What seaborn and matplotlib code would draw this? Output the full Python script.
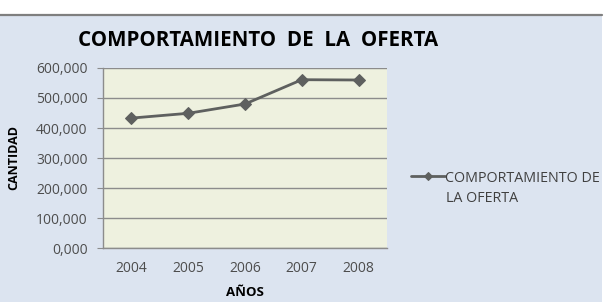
import matplotlib.pyplot as plt
import seaborn as sns
import pandas as pd
from matplotlib.patches import Rectangle
from matplotlib.lines import Line2D

# values (Spanish number format: 600,000 -> 600.000)
years = [2004, 2005, 2006, 2007, 2008]
oferta = [433.0, 449.0, 480.0, 561.0, 560.0]
y_ticks = [0, 100, 200, 300, 400, 500, 600]
series_name = "COMPORTAMIENTO DE"
series_name_2 = "LA OFERTA"

df = pd.DataFrame({"año": years, "cantidad": oferta})

sns.set_style("white")
plt.rcParams['font.family'] = ['Open Sans', 'DejaVu Sans']

W, H = 606, 306
fig = plt.figure(figsize=(W / 100, H / 100), dpi=100)
fig.patch.set_facecolor("white")

# chart panel with the grey top border
fig.patches.append(Rectangle((0, 1 - 302 / H), 602 / W, (302 - 15) / H,
                             transform=fig.transFigure, facecolor="#dce4f0",
                             edgecolor="none", zorder=-5))
fig.lines.append(Line2D([0, 602 / W], [1 - 15 / H, 1 - 15 / H],
                        transform=fig.transFigure, color="#7f7f7f", lw=1.6,
                        zorder=-4))

ax = fig.add_axes([103 / W, (H - 248) / H, (387 - 103) / W, (248 - 68) / H])
ax.set_zorder(2)
ax.set_facecolor("#eef1df")

sns.lineplot(data=df, x="año", y="cantidad", ax=ax, color="#5e605f",
             linewidth=2.0, marker="D", markersize=6.5, markeredgecolor="#5e605f",
             label=series_name)

ax.set_xlim(2003.5, 2008.5)
ax.set_ylim(0, 600)
ax.set_xticks(years)
ax.set_xticklabels([str(y) for y in years])
ax.set_yticks(y_ticks)
ax.set_yticklabels([f"{v:.3f}".replace(".", ",") for v in y_ticks])
ax.yaxis.grid(True, color="#8c8c8c", linewidth=1.0)
ax.set_axisbelow(True)

for side in ["top", "right"]:
    ax.spines[side].set_visible(False)
for side in ["left", "bottom"]:
    ax.spines[side].set_color("#8c8c8c")
    ax.spines[side].set_linewidth(1.0)

ax.tick_params(axis="y", which="both", left=True, length=4, color="#8c8c8c",
               labelsize=10, labelcolor="#4d4d4d", pad=7)
ax.tick_params(axis="x", bottom=False, labelsize=10, labelcolor="#4d4d4d", pad=6)

ax.set_xlabel("")
ax.set_ylabel("")

fig.text(258 / W, 1 - 41 / H, "COMPORTAMIENTO  DE  LA  OFERTA", ha="center",
         va="center", fontsize=14.8, fontweight="bold", color="black")
fig.text(14 / W, 1 - 157 / H, "CANTIDAD", rotation=90, ha="center", va="center",
         fontsize=9, fontweight="bold", color="black")
fig.text(245 / W, 1 - 292 / H, "AÑOS", ha="center", va="center",
         fontsize=9.5, fontweight="bold", color="black")

leg = ax.legend(loc="center left", bbox_to_anchor=(411 / W, 1 - 178 / H),
                bbox_transform=fig.transFigure, frameon=False, fontsize=10.3,
                handlelength=2.4, handletextpad=0.0, borderaxespad=0, borderpad=0,
                markerscale=0.7)
for t in leg.get_texts():
    t.set_color("#404040")
# second line of the series name, under the legend label
fig.text(446 / W, 1 - 199 / H, series_name_2, ha="left", va="center",
         fontsize=10.3, color="#404040")

fig.savefig("out.png", dpi=100)
